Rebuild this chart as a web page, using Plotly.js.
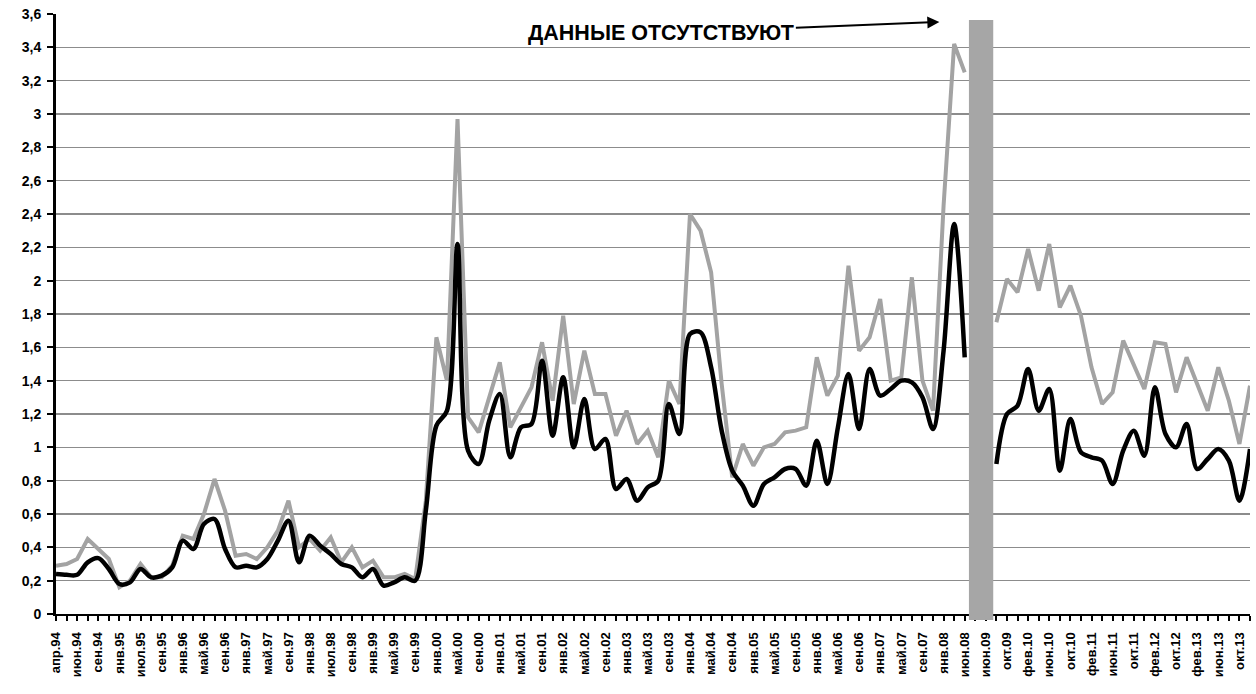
<!DOCTYPE html>
<html>
<head>
<meta charset="utf-8">
<script src="https://cdn.plot.ly/plotly-3.0.1.min.js"></script>
<style>html,body{margin:0;padding:0;background:#fff;}#chart{width:1256px;height:694px;}</style>
</head>
<body>
<div id="chart"></div>
<script>
// Tick labels (every second observation is labelled)
const tickLabels = [
  "апр.94","июн.94","сен.94","янв.95","июл.95","сен.95","янв.96","май.96","сен.96",
  "янв.97","май.97","сен.97","янв.98","июл.98","сен.98","янв.99","май.99","сен.99",
  "янв.00","май.00","сен.00","янв.01","май.01","сен.01","янв.02","май.02","сен.02",
  "янв.03","май.03","сен.03","янв.04","май.04","сен.04","янв.05","май.05","сен.05",
  "янв.06","май.06","сен.06","янв.07","май.07","сен.07","янв.08","июн.08","июн.09",
  "окт.09","фев.10","июн.10","окт.10","фев.11","июн.11","окт.11","фев.12","окт.12",
  "фев.13","июн.13","окт.13"
];

// Black series
const blackSeries = [
  0.24,0.235,0.235,0.31,0.335,0.27,0.18,0.19,0.27,0.22,
  0.23,0.28,0.44,0.39,0.54,0.57,0.39,0.28,0.29,0.28,
  0.33,0.44,0.56,0.31,0.47,0.41,0.36,0.30,0.28,0.22,
  0.27,0.17,0.19,0.22,0.20,0.62,1.13,1.22,2.22,0.98,
  0.90,1.16,1.32,0.94,1.12,1.14,1.52,1.07,1.42,1.00,
  1.29,0.99,1.05,0.75,0.81,0.68,0.76,0.80,1.26,1.08,
  1.68,1.69,1.48,1.10,0.86,0.77,0.65,0.78,0.82,0.87,
  0.87,0.77,1.04,0.78,1.12,1.44,1.11,1.47,1.31,1.35,
  1.40,1.39,1.30,1.11,1.58,2.34,1.54,null,null,0.90,
  1.20,1.25,1.47,1.22,1.35,0.86,1.17,0.97,0.94,0.92,
  0.78,0.98,1.10,0.95,1.36,1.08,1.00,1.14,0.87,0.93,
  0.99,0.92,0.68,0.99
];

// Grey series
const greySeries = [
  0.29,0.30,0.33,0.45,0.39,0.33,0.16,0.20,0.30,0.22,
  0.22,0.29,0.47,0.45,0.60,0.81,0.62,0.35,0.36,0.33,
  0.40,0.50,0.68,0.40,0.45,0.38,0.46,0.31,0.40,0.28,
  0.32,0.22,0.22,0.24,0.21,0.68,1.66,1.40,2.97,1.18,
  1.09,1.30,1.51,1.12,1.24,1.36,1.63,1.28,1.79,1.26,
  1.58,1.32,1.32,1.07,1.22,1.02,1.10,0.94,1.40,1.26,
  2.40,2.30,2.05,1.38,0.82,1.02,0.89,1.00,1.02,1.09,
  1.10,1.12,1.54,1.31,1.43,2.09,1.58,1.66,1.89,1.40,
  1.42,2.02,1.40,1.22,2.45,3.42,3.25,null,null,1.75,
  2.01,1.93,2.19,1.94,2.22,1.84,1.97,1.79,1.48,1.26,
  1.33,1.64,1.50,1.35,1.63,1.62,1.33,1.54,1.38,1.22,
  1.48,1.28,1.02,1.37
];

const annotationText = "ДАННЫЕ ОТСУТСТВУЮТ";
const gapStart = 86.4, gapEnd = 88.7;   // missing-data band (observation index)

const xIdx = blackSeries.map((_, i) => i);
const tickVals = tickLabels.map((_, k) => 2 * k);

const fontFam = "Liberation Sans, Arial, sans-serif";

const traces = [
  {x: xIdx, y: greySeries, type: 'scatter', mode: 'lines',
   line: {color: '#a3a3a3', width: 4, shape: 'linear'},
   connectgaps: false, hoverinfo: 'y'},
  {x: xIdx, y: blackSeries, type: 'scatter', mode: 'lines',
   line: {color: '#000000', width: 4.5, shape: 'spline', smoothing: 0.9},
   connectgaps: false, hoverinfo: 'y'}
];

const layout = {
  width: 1256, height: 694,
  margin: {l: 56, r: 6, t: 14, b: 80},
  paper_bgcolor: '#ffffff', plot_bgcolor: '#ffffff',
  showlegend: false,
  separators: ', ',
  font: {family: fontFam, color: '#000'},
  xaxis: {
    range: [0, 113], showgrid: false, zeroline: false,
    showline: true, linecolor: '#000', linewidth: 2,
    tickmode: 'array', tickvals: tickVals, ticktext: tickLabels,
    tickangle: -90, ticks: 'outside', ticklen: 5, tickwidth: 2, tickcolor: '#000',
    ticklabelstandoff: 6,
    tickfont: {family: fontFam, size: 13, weight: 'bold', color: '#000'},
    minor: {dtick: 1, tick0: 0, ticks: 'outside', ticklen: 5, tickwidth: 2, tickcolor: '#000', showgrid: false}
  },
  yaxis: {
    range: [0, 3.6], dtick: 0.2, tick0: 0,
    showgrid: true, gridcolor: '#8c8c8c', gridwidth: 1.5, zeroline: false,
    showline: true, linecolor: '#000', linewidth: 3,
    ticks: 'outside', ticklen: 6, tickwidth: 2, tickcolor: '#000',
    ticklabelstandoff: 3,
    tickfont: {family: fontFam, size: 14, weight: 'bold', color: '#000'}
  },
  shapes: [
    {type: 'rect', xref: 'x', yref: 'paper', x0: gapStart, x1: gapEnd, y0: -0.01, y1: 0.99,
     fillcolor: '#a6a6a6', line: {width: 0}, layer: 'above'}
  ],
  annotations: [
    {xref: 'x', yref: 'y', x: 83.6, y: 3.552, text: annotationText,
     showarrow: true, axref: 'pixel', ayref: 'pixel', ax: -278, ay: 11,
     arrowhead: 2, arrowsize: 1.2, arrowwidth: 2, arrowcolor: '#000',
     font: {family: fontFam, size: 21.5, weight: 'bold', color: '#000'}}
  ]
};

Plotly.newPlot('chart', traces, layout, {staticPlot: true, displayModeBar: false});
</script>
</body>
</html>
